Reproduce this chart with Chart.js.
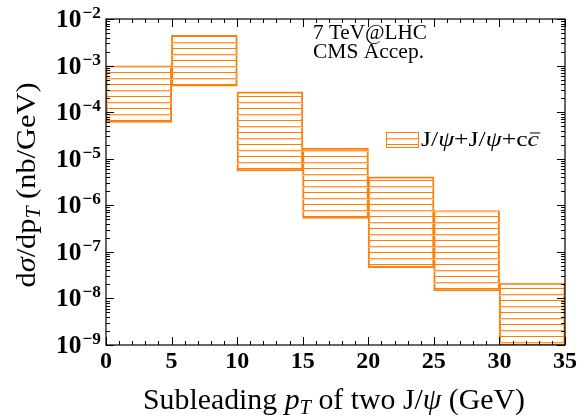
<!DOCTYPE html>
<html><head><meta charset="utf-8">
<script src="https://cdn.jsdelivr.net/npm/chart.js@4/dist/chart.umd.min.js"></script>
<style>html,body{margin:0;padding:0;background:#fff;}canvas{display:block;}</style>
</head><body>
<canvas id="c" width="584" height="419"></canvas>
<script>
// ---- data ----
const binStart = [0, 5, 10, 15, 20, 25, 30];
const binWidth = 5;
const lowerValues = [6.1e-5, 3.65e-4, 5.5e-6, 5.3e-7, 4.6e-8, 1.46e-8, 1e-9];
const upperValues = [9.8e-4, 4.4e-3, 2.7e-4, 1.68e-5, 4.07e-6, 7.6e-7, 2.13e-8];
const xTickValues = [0, 5, 10, 15, 20, 25, 30, 35];
const yTickExponents = [-9, -8, -7, -6, -5, -4, -3, -2];
const seriesLabel = 'J/ψ+J/ψ+cc̄';
const infoLines = ['7 TeV@LHC', 'CMS Accep.'];

const ORANGE = '#ff8010';
const SERIF = '"Liberation Serif", "DejaVu Serif", serif';

function makePattern(ctx) {
  const p = document.createElement('canvas');
  p.width = 8; p.height = 12;
  const g = p.getContext('2d');
  g.fillStyle = '#ff7f00';
  g.fillRect(0, 0, 8, 1);
  g.fillStyle = '#ff9a38';
  g.fillRect(0, 6, 8, 1);
  g.fillStyle = '#ffd6ad';
  g.fillRect(0, 7, 8, 1);
  return ctx.createPattern(p, 'repeat');
}

function fontOf(s, size) {
  const sz = s.size ? s.size : size;
  return (s.italic ? 'italic ' : '') + (s.bold ? 'bold ' : '') + sz + 'px ' + SERIF;
}
function drawRich(ctx, segs, x, y, align, size, fitWidth) {
  const widths = segs.map(s => { ctx.font = fontOf(s, size); return ctx.measureText(s.t).width + (s.gap || 0); });
  const total = widths.reduce((a, b) => a + b, 0);
  const sx = fitWidth ? fitWidth / total : 1;
  const w = total * sx;
  const start = align === 'center' ? x - w / 2 : (align === 'right' ? x - w : x);
  ctx.save();
  ctx.translate(start, y);
  ctx.scale(sx, 1);
  ctx.textAlign = 'left';
  ctx.textBaseline = 'alphabetic';
  let cx = 0;
  segs.forEach((s, i) => {
    ctx.font = fontOf(s, size);
    ctx.fillText(s.t, cx + (s.gap || 0), s.dy || 0);
    if (s.bar) {
      ctx.save();
      ctx.lineWidth = 1;
      ctx.strokeStyle = ctx.fillStyle;
      ctx.beginPath();
      ctx.moveTo(cx + 2, -size * 0.62);
      ctx.lineTo(cx + widths[i] + 1, -size * 0.62);
      ctx.stroke();
      ctx.restore();
    }
    cx += widths[i];
  });
  ctx.restore();
}

const axesPlugin = {
  id: 'axesPlugin',
  afterDatasetsDraw(chart) {
    const ctx = chart.ctx;
    const a = chart.chartArea;
    const xs = chart.scales.x, ys = chart.scales.y;
    ctx.save();
    ctx.strokeStyle = '#000';
    ctx.fillStyle = '#000';
    ctx.lineWidth = 1.2;
    ctx.strokeRect(a.left, a.top, a.right - a.left, a.bottom - a.top);
    ctx.lineWidth = 1;
    ctx.beginPath();
    // x ticks (bottom & top, inward)
    for (let v = xs.min; v <= xs.max; v++) {
      const px = Math.round(xs.getPixelForValue(v)) + 0.5;
      const len = (v % 5 === 0) ? 8 : 4;
      ctx.moveTo(px, a.bottom); ctx.lineTo(px, a.bottom - len);
      ctx.moveTo(px, a.top); ctx.lineTo(px, a.top + len);
    }
    // y ticks (left & right, inward)
    yTickExponents.forEach(e => {
      for (let k = 1; k <= 9; k++) {
        const v = k * Math.pow(10, e);
        if (v > ys.max * 1.0001) break;
        const py = Math.round(ys.getPixelForValue(v)) + 0.5;
        const len = (k === 1) ? 8 : 4;
        ctx.moveTo(a.left, py); ctx.lineTo(a.left + len, py);
        ctx.moveTo(a.right, py); ctx.lineTo(a.right - len, py);
      }
    });
    ctx.stroke();

    // x tick labels
    ctx.font = 'bold 24px ' + SERIF;
    ctx.textAlign = 'center';
    ctx.textBaseline = 'alphabetic';
    xTickValues.forEach(v => {
      ctx.fillText(String(v), xs.getPixelForValue(v), a.bottom + 23);
    });
    // y tick labels 10^e
    yTickExponents.forEach(e => {
      const py = ys.getPixelForValue(Math.pow(10, e));
      drawRich(ctx, [
        { t: '10', bold: true },
        { t: '\u2212' + Math.abs(e), bold: true, size: 17, dy: -9, gap: 1 }
      ], a.left - 5, py + 8, 'right', 25, 45);
    });

    // x title
    drawRich(ctx, [
      { t: 'Subleading ' },
      { t: 'p', italic: true },
      { t: 'T', italic: true, size: 20, dy: 5 },
      { t: ' of two J/' },
      { t: 'ψ', italic: true },
      { t: ' (GeV)' }
    ], 334, 409, 'center', 29, 382);

    // y title (rotated)
    ctx.save();
    ctx.translate(35, 185);
    ctx.rotate(-Math.PI / 2);
    drawRich(ctx, [
      { t: 'd' },
      { t: 'σ', italic: true },
      { t: '/dp' },
      { t: 'T', italic: true, size: 20, dy: 5 },
      { t: ' (nb/GeV)' }
    ], 0, 0, 'center', 28, 205);
    ctx.restore();

    // info text
    drawRich(ctx, [{ t: infoLines[0] }], 313, 39, 'left', 21, 114);
    drawRich(ctx, [{ t: infoLines[1] }], 313, 58, 'left', 21, 111);

    // legend
    const ds = chart.data.datasets[0];
    ctx.fillStyle = ds.backgroundColor;
    ctx.fillRect(386, 132, 32, 15);
    ctx.strokeStyle = ORANGE;
    ctx.lineWidth = 1;
    ctx.strokeRect(386.5, 132.5, 32, 15);
    ctx.fillStyle = '#000';
    drawRich(ctx, [
      { t: 'J/' }, { t: 'ψ', italic: true }, { t: '+J/' }, { t: 'ψ', italic: true },
      { t: '+c' }, { t: 'c', italic: true, bar: true }
    ], 421, 146, 'left', 21, 118);
    ctx.restore();
  }
};

const ctx = document.getElementById('c').getContext('2d');
const pattern = makePattern(ctx);

new Chart(ctx, {
  type: 'bar',
  data: {
    datasets: [{
      label: seriesLabel,
      data: binStart.map((s, i) => ({ x: s + binWidth / 2, y: [lowerValues[i], upperValues[i]] })),
      backgroundColor: pattern,
      borderColor: ORANGE,
      borderWidth: 1,
      borderSkipped: false,
      barPercentage: 1,
      categoryPercentage: 1,
      grouped: false,
      inflateAmount: 0.5
    }]
  },
  options: {
    responsive: false,
    animation: false,
    devicePixelRatio: 1,
    layout: { padding: { left: 106, right: 19, top: 19, bottom: 74 } },
    plugins: { legend: { display: false }, tooltip: { enabled: false } },
    scales: {
      x: { type: 'linear', min: 0, max: 35, display: false, offset: false },
      y: { type: 'logarithmic', min: 1e-9, max: 1e-2, display: false }
    }
  },
  plugins: [axesPlugin]
});
</script>
</body></html>
